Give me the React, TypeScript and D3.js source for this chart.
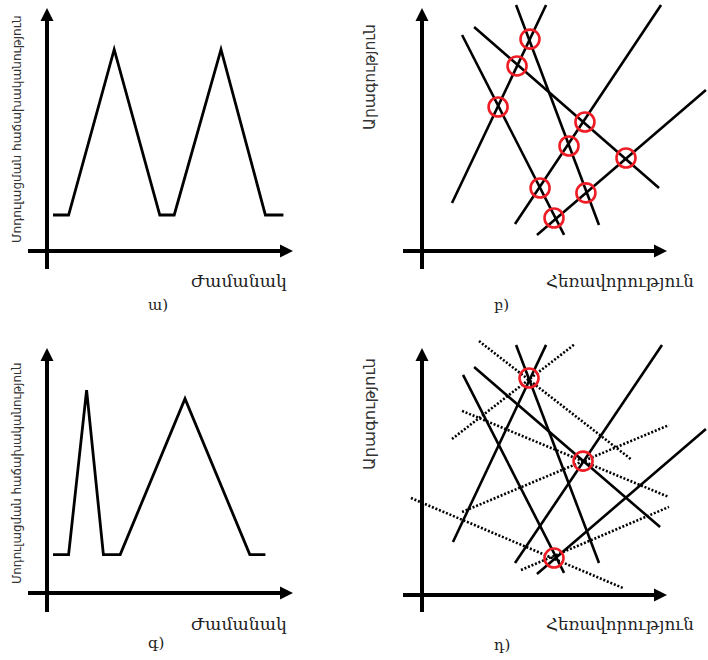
import { useEffect, useRef } from 'react';
import * as d3 from 'd3';

const WIDTH = 708;
const HEIGHT = 660;
const UNIT = 2.4; // px per data unit, both axes

// ա) / գ) – modulation frequency over time
const timeA = [2.5, 9, 28, 47, 53, 72.5, 91, 98.5];
const freqA = [15, 15, 84, 15, 15, 84, 15, 15];
const timeC = [2.5, 9, 16.5, 23.5, 30.5, 57.5, 84.5, 91];
const freqC = [16, 16, 84.5, 16, 16, 81, 16, 16];

// բ) – speed/distance lines [d1, v1, d2, v2]
const linesB = [
  [12.5, 20, 51.7, 102.5],
  [16.7, 90, 59.2, 6.7],
  [39.2, 102.5, 73.75, 10.8],
  [21.7, 93.3, 98.75, 26.25],
  [38.75, 11.25, 99.6, 102.5],
  [47.9, 6.7, 118.3, 67.1],
];
const hitsB = [
  [31.7, 60], [39.6, 77.1], [45, 88.3], [49.2, 26.25], [55, 13.75],
  [61.25, 43.75], [67.9, 53.75], [68.3, 24.2], [85, 38.75],
];

// դ) – solid + dotted lines, fewer hits
const linesD = [
  [12.9, 22.1, 51.7, 104.2],
  [17.1, 91.7, 59.2, 9.2],
  [39.2, 104.2, 73.75, 13.3],
  [21.7, 95, 99.2, 28.3],
  [38.75, 13.3, 100, 104.2],
  [47.9, 8.75, 118.3, 69.2],
];
const dottedD = [
  [23.75, 105.8, 87.5, 56.25],
  [12.5, 65, 63.75, 104.6],
  [16.7, 76.7, 102.9, 40.8],
  [16.7, 34.6, 102.9, 70.8],
  [-4.6, 40.4, 83.75, 2.9],
  [41.25, 10.4, 102.9, 36.7],
];
const hitsD = [[44.6, 90.4], [67.1, 55.8], [55, 15.4]];

const yLabelLeft = 'Մոդուլացման հաճախականություն';
const yLabelRight = 'Արագություն';
const xLabelLeft = 'Ժամանակ';
const xLabelRight = 'Հեռավորություն';

type Panel = {
  ox: number; oy: number;
  yTop: number; yBottom: number; xLeft: number; xRight: number;
  yLabel: string; yLabelX: number; yLabelY: number; yLabelLen: number;
  xLabel: string; xLabelX: number; xLabelY: number; xLabelLen: number;
  tag: string; tagX: number; tagY: number;
  wave?: { t: number[]; f: number[] };
  lines?: number[][]; dotted?: number[][]; hits?: number[][];
};

const PANELS: Panel[] = [
  {
    ox: 47, oy: 251, yTop: 8, yBottom: 269, xLeft: 28, xRight: 293,
    yLabel: yLabelLeft, yLabelX: 21, yLabelY: 243, yLabelLen: 228,
    xLabel: xLabelLeft, xLabelX: 191, xLabelY: 287, xLabelLen: 96,
    tag: 'ա)', tagX: 148, tagY: 310,
    wave: { t: timeA, f: freqA },
  },
  {
    ox: 422, oy: 251, yTop: 8, yBottom: 269, xLeft: 403, xRight: 667,
    yLabel: yLabelRight, yLabelX: 375, yLabelY: 130, yLabelLen: 106,
    xLabel: xLabelRight, xLabelX: 546, xLabelY: 287, xLabelLen: 148,
    tag: 'բ)', tagX: 494, tagY: 310,
    lines: linesB, hits: hitsB,
  },
  {
    ox: 47, oy: 593, yTop: 348, yBottom: 612, xLeft: 28, xRight: 293,
    yLabel: yLabelLeft, yLabelX: 21, yLabelY: 584, yLabelLen: 222,
    xLabel: xLabelLeft, xLabelX: 191, xLabelY: 630, xLabelLen: 96,
    tag: 'գ)', tagX: 148, tagY: 648,
    wave: { t: timeC, f: freqC },
  },
  {
    ox: 422, oy: 595, yTop: 348, yBottom: 612, xLeft: 403, xRight: 667,
    yLabel: yLabelRight, yLabelX: 375, yLabelY: 470, yLabelLen: 112,
    xLabel: xLabelRight, xLabelX: 546, xLabelY: 630, xLabelLen: 148,
    tag: 'դ)', tagX: 494, tagY: 650,
    lines: linesD, dotted: dottedD, hits: hitsD,
  },
];

// scale a text's font size so its natural width matches the target width
function fitText(sel: d3.Selection<SVGTextElement, unknown, null, undefined>, target: number, base: number) {
  const node = sel.node();
  if (!node) return;
  const w = node.getComputedTextLength();
  if (w > 0) sel.style('font-size', `${(base * target) / w}px`);
}

export default function App() {
  const svgRef = useRef<SVGSVGElement>(null);

  useEffect(() => {
    if (!svgRef.current) return;
    const svg = d3.select(svgRef.current);
    svg.selectAll('*').remove();

    PANELS.forEach(p => {
      const g = svg.append('g');
      const x = d3.scaleLinear().domain([0, 100]).range([p.ox, p.ox + 100 * UNIT]);
      const y = d3.scaleLinear().domain([0, 100]).range([p.oy, p.oy - 100 * UNIT]);

      // axes with arrow heads
      g.append('line')
        .attr('x1', p.ox).attr('y1', p.yBottom).attr('x2', p.ox).attr('y2', p.yTop + 10)
        .attr('stroke', '#000').attr('stroke-width', 4);
      g.append('path')
        .attr('d', `M${p.ox},${p.yTop} L${p.ox - 6.5},${p.yTop + 13} L${p.ox + 6.5},${p.yTop + 13} Z`)
        .attr('fill', '#000');
      g.append('line')
        .attr('x1', p.xLeft).attr('y1', p.oy).attr('x2', p.xRight - 10).attr('y2', p.oy)
        .attr('stroke', '#000').attr('stroke-width', 4);
      g.append('path')
        .attr('d', `M${p.xRight},${p.oy} L${p.xRight - 13},${p.oy - 6.5} L${p.xRight - 13},${p.oy + 6.5} Z`)
        .attr('fill', '#000');

      if (p.wave) {
        const pts = p.wave.t.map((t, i) => [t, p.wave!.f[i]] as [number, number]);
        const line = d3.line<[number, number]>().x(d => x(d[0])).y(d => y(d[1]));
        g.append('path')
          .attr('d', line(pts))
          .attr('fill', 'none')
          .attr('stroke', '#000')
          .attr('stroke-width', 2.8)
          .attr('stroke-linejoin', 'miter');
      }

      if (p.dotted) {
        g.selectAll('.dot-line')
          .data(p.dotted)
          .join('line')
          .attr('class', 'dot-line')
          .attr('x1', d => x(d[0])).attr('y1', d => y(d[1]))
          .attr('x2', d => x(d[2])).attr('y2', d => y(d[3]))
          .attr('stroke', '#000')
          .attr('stroke-width', 2.6)
          .attr('stroke-dasharray', '2,1.8');
      }

      if (p.lines) {
        g.selectAll('.solid-line')
          .data(p.lines)
          .join('line')
          .attr('class', 'solid-line')
          .attr('x1', d => x(d[0])).attr('y1', d => y(d[1]))
          .attr('x2', d => x(d[2])).attr('y2', d => y(d[3]))
          .attr('stroke', '#000')
          .attr('stroke-width', 2.6);
      }

      if (p.hits) {
        g.selectAll('.hit')
          .data(p.hits)
          .join('circle')
          .attr('class', 'hit')
          .attr('cx', d => x(d[0]))
          .attr('cy', d => y(d[1]))
          .attr('r', 9.5)
          .attr('fill', 'none')
          .attr('stroke', '#ee1c24')
          .attr('stroke-width', 2.6);
      }

      // labels
      const yl = g.append('text')
        .attr('x', p.yLabelX).attr('y', p.yLabelY)
        .attr('transform', `rotate(-90, ${p.yLabelX}, ${p.yLabelY})`)
        .style('font-family', '"DejaVu Sans", sans-serif')
        .style('font-size', '14px')
        .style('fill', '#333')
        .text(p.yLabel);
      fitText(yl, p.yLabelLen, 14);

      const xl = g.append('text')
        .attr('x', p.xLabelX).attr('y', p.xLabelY)
        .style('font-family', '"DejaVu Serif", serif')
        .style('font-size', '15px')
        .style('fill', '#222')
        .text(p.xLabel);
      fitText(xl, p.xLabelLen, 15);

      g.append('text')
        .attr('x', p.tagX).attr('y', p.tagY)
        .style('font-family', '"DejaVu Serif", serif')
        .style('font-size', '15px')
        .style('fill', '#222')
        .text(p.tag);
    });
  }, []);

  return (
    <svg
      ref={svgRef}
      width={WIDTH}
      height={HEIGHT}
      style={{ position: 'absolute', left: 0, top: 0, background: '#fff' }}
    />
  );
}
